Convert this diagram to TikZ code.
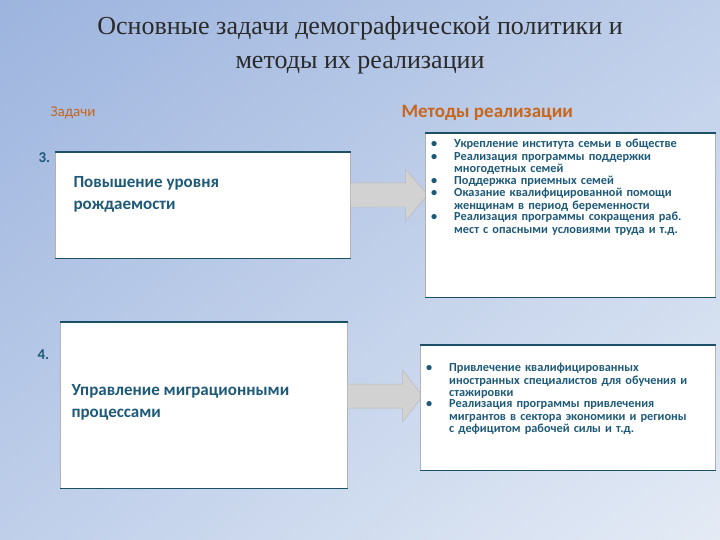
\documentclass[tikz,border=0pt]{standalone}
\usepackage{fontspec}
\setmainfont{Liberation Serif}
\newfontfamily\sansb{Carlito}
\usetikzlibrary{shadings}
\definecolor{txt}{HTML}{1E5A78}
\definecolor{org}{HTML}{C8661C}
\definecolor{ttl}{HTML}{2A2A2A}
\definecolor{bgA}{HTML}{9DB4DE}
\definecolor{bgM}{HTML}{BFCFEA}
\definecolor{bgB}{HTML}{E4EBF5}
\definecolor{edge}{HTML}{1C5066}
\newcommand{\itm}[1]{\noindent\makebox[23bp][l]{\textbullet}\parbox[t]{245bp}{#1}\par}
\tikzset{
 box/.style={fill=white,draw=gray!60,line width=0.6pt,inner sep=0pt,anchor=north west},
 lbl/.style={text=txt,font=\sansb\bfseries,anchor=west},
 meth/.style={text=txt,font=\sansb\bfseries\fontsize{12.3bp}{12.6bp}\selectfont,anchor=north west,inner sep=0pt,text width=285bp},
 arr/.style={fill=gray!35,draw=gray!55,line width=0.5pt}
}
\begin{document}
\begin{tikzpicture}[x=1bp,y=-1bp]
\shade[upper left=bgA,upper right=bgM,lower left=bgM,lower right=bgB] (0,0) rectangle (720,540);
\useasboundingbox (0,0) rectangle (720,540);
\node[text=ttl,font=\fontsize{26bp}{34bp}\selectfont,align=center] (title) at (360,45) {Основные задачи демографической политики и\\методы их реализации};
\node[text=org,font=\sansb\fontsize{15bp}{18bp}\selectfont,anchor=west] (z) at (47,113) {Задачи};
\node[text=org,font=\sansb\bfseries\fontsize{19bp}{22bp}\selectfont,anchor=west] (m) at (398,113) {Методы реализации};
% row 1
\node[box,minimum width=295bp,minimum height=106bp] (b1) at (55,152) {};
\draw[edge,line width=1.6pt] (b1.north west)--(b1.north east) (b1.south west)--(b1.south east);
\node[lbl,font=\sansb\bfseries\fontsize{15bp}{13bp}\selectfont,text=txt] (n3) at (35,158) {3.};
\node[lbl,font=\sansb\bfseries\fontsize{17bp}{22bp}\selectfont,align=left] (t1) at (70,194) {Повышение уровня\\рождаемости};
\coordinate (a1s) at (b1.east |- 0,195);
\draw[arr] (a1s) ++(0,-12) -- ++(55,0) -- ++(0,-14) -- ++(22,26) -- ++(-22,26) -- ++(0,-14) -- ++(-55,0) -- cycle;
\node[box,minimum width=290bp,minimum height=164bp] (c1) at (425,133) {};
\draw[edge,line width=1.6pt] (c1.north west)--(c1.north east) (c1.south west)--(c1.south east);
\node[meth] (l1) at (431,139) {%
\itm{Укрепление института семьи в обществе}
\itm{Реализация программы поддержки многодетных семей}
\itm{Поддержка приемных семей}
\itm{Оказание квалифицированной помощи женщинам в период беременности}
\itm{Реализация программы сокращения раб. мест с опасными условиями труда и т.д.}};
% row 2
\node[box,minimum width=287bp,minimum height=166bp] (b2) at (60,322) {};
\draw[edge,line width=1.6pt] (b2.north west)--(b2.north east) (b2.south west)--(b2.south east);
\node[lbl,font=\sansb\bfseries\fontsize{15bp}{13bp}\selectfont] (n4) at (34,355) {4.};
\node[lbl,font=\sansb\bfseries\fontsize{17bp}{22bp}\selectfont,align=left] (t2) at (68,402) {Управление миграционными\\процессами};
\coordinate (a2s) at (b2.east |- 0,396);
\draw[arr] (a2s) ++(0,-12) -- ++(55,0) -- ++(0,-14) -- ++(20,26) -- ++(-20,26) -- ++(0,-14) -- ++(-55,0) -- cycle;
\node[box,minimum width=295bp,minimum height=125bp] (c2) at (420,345) {};
\draw[edge,line width=1.6pt] (c2.north west)--(c2.north east) (c2.south west)--(c2.south east);
\node[meth] (l2) at (426,363) {%
\itm{Привлечение квалифицированных иностранных специалистов для обучения и стажировки}
\itm{Реализация программы привлечения мигрантов в сектора экономики и регионы с дефицитом рабочей силы и т.д.}};
\end{tikzpicture}
\end{document}
